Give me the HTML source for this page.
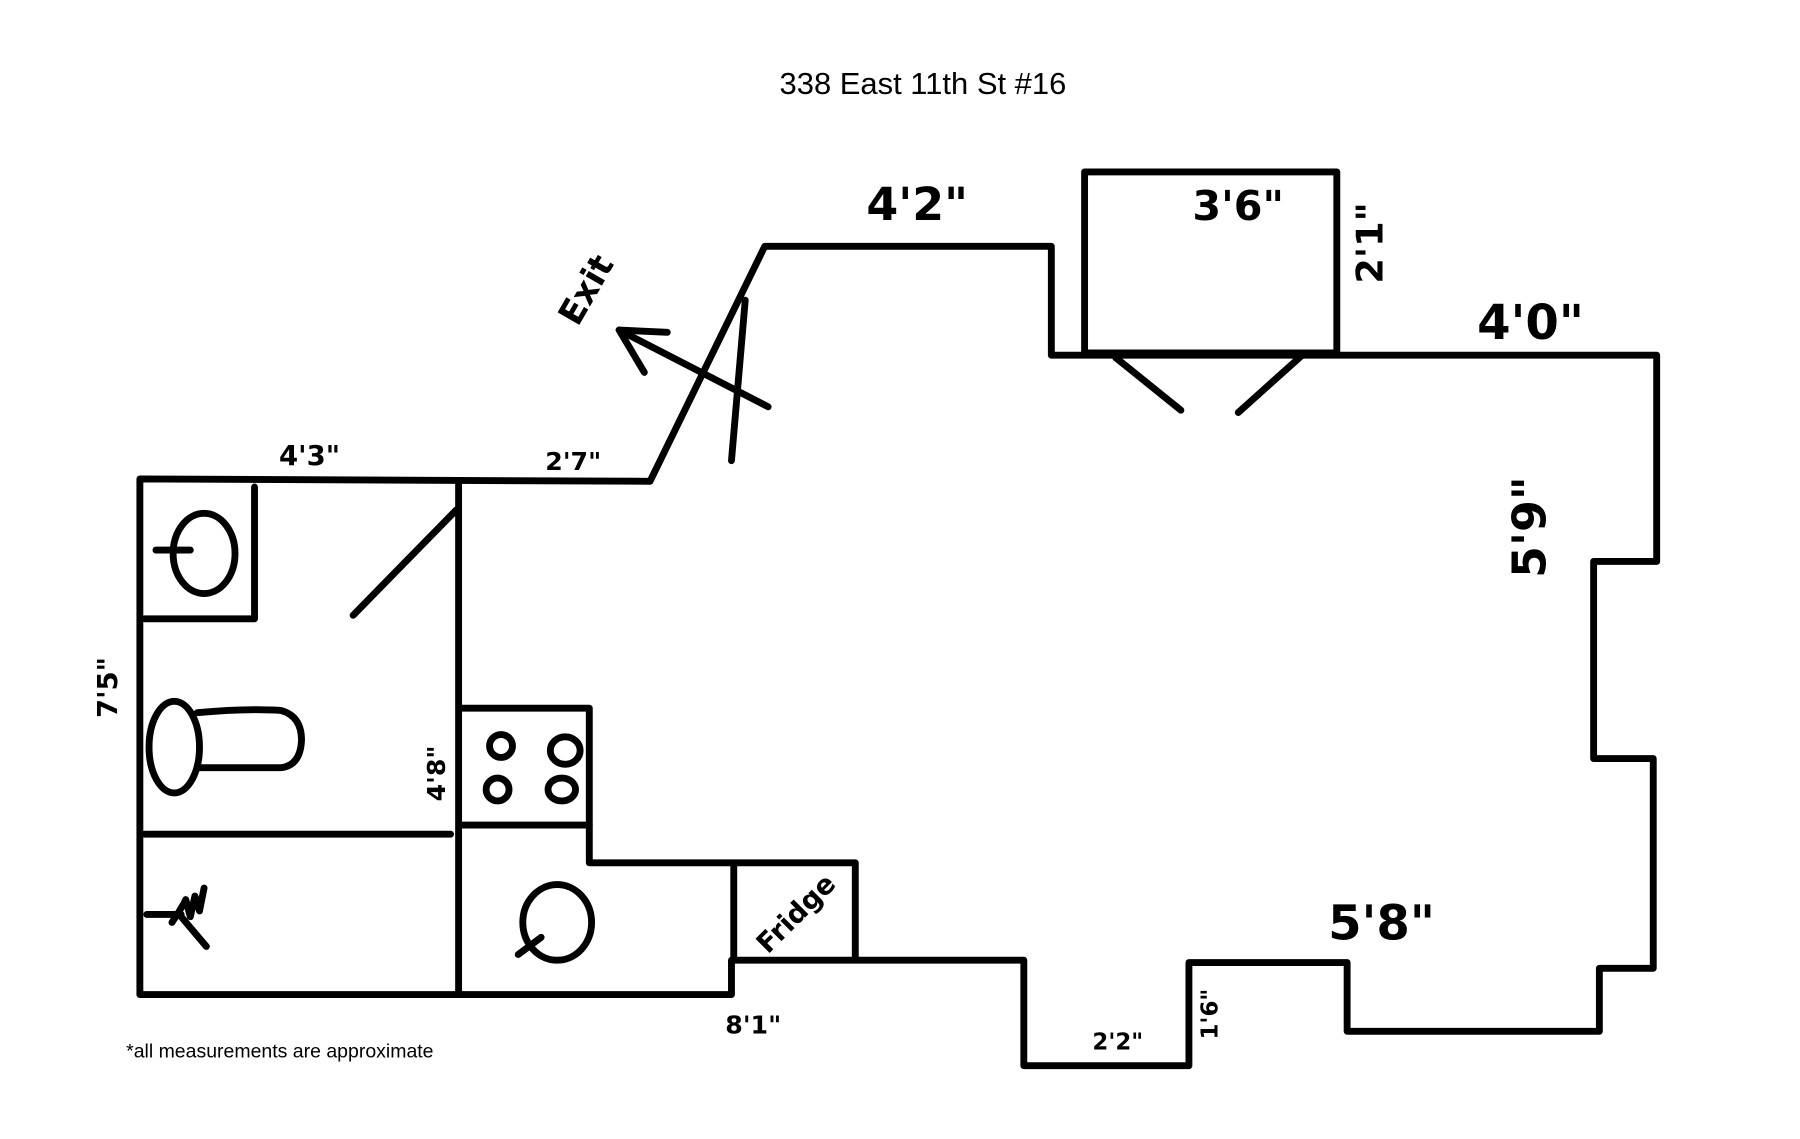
<!DOCTYPE html>
<html><head><meta charset="utf-8"><style>
html,body{margin:0;padding:0;background:#fff;}
svg{display:block;}
text{font-family:"Liberation Sans",sans-serif;fill:#000;}
.h{font-family:"DejaVu Sans","Liberation Sans",sans-serif;font-weight:bold;}
</style></head><body>
<svg width="1800" height="1139" viewBox="0 0 1570 994" preserveAspectRatio="none" xmlns="http://www.w3.org/2000/svg">
<rect width="1570" height="994" fill="#fff"/>
<text x="805" y="82" font-size="27" text-anchor="middle">338 East 11th St #16</text>
<g fill="none" stroke="#000" stroke-width="6" stroke-linecap="round" stroke-linejoin="round">
<polyline points="122,418 567,420 667,215 917,215 917,310 1445,310 1445,490 1390,490 1390,662 1442,662 1442,845 1395,845 1395,900 1175,900 1175,840 1037,840 1037,930 893,930 893,838 638,838 638,868 122,868 122,418"/>
<rect x="946" y="150" width="220" height="158"/>
<line x1="973" y1="312" x2="1030" y2="358"/>
<line x1="1138" y1="308" x2="1080" y2="360"/>
<line x1="650" y1="262" x2="638" y2="402"/>
<line x1="670" y1="355" x2="540" y2="288"/>
<polyline points="582,290 540,288 562,325"/>
<line x1="400" y1="420" x2="400" y2="868"/>
<line x1="126" y1="728" x2="393" y2="728"/>
<polyline points="222,425 222,540 126,540"/>
<ellipse cx="178" cy="483" rx="27" ry="35"/>
<line x1="136" y1="480" x2="166" y2="480"/>
<line x1="398" y1="445" x2="308" y2="537"/>
<ellipse cx="152" cy="652" rx="22" ry="40"/>
<path d="M172,622 Q215,618 245,620 Q263,625 263,646 Q262,668 245,670 L172,670"/>
<line x1="128" y1="798" x2="158" y2="798"/>
<path d="M150,805 Q160,790 162,785 L166,800 L170,782 L174,795 L178,775 M158,800 L180,826"/>
<polyline points="402,618 514,618 514,720 402,720"/>
<polyline points="514,720 514,753 746,753 746,835"/>
<line x1="640" y1="755" x2="640" y2="835"/>
<ellipse cx="437" cy="651" rx="10" ry="10"/>
<ellipse cx="493" cy="655" rx="13" ry="12"/>
<ellipse cx="434" cy="689" rx="10" ry="10"/>
<ellipse cx="490" cy="689" rx="12" ry="10"/>
<ellipse cx="486" cy="805" rx="30" ry="33"/>
<line x1="452" y1="833" x2="472" y2="818"/>
</g>
<text class="h" x="800" y="192" font-size="40" text-anchor="middle">4'2"</text>
<text class="h" x="1080" y="192" font-size="36" text-anchor="middle">3'6"</text>
<text class="h" x="1335" y="296" font-size="42" text-anchor="middle">4'0"</text>
<text class="h" x="1205" y="820" font-size="42" text-anchor="middle">5'8"</text>
<text x="270" y="406" font-size="24" text-anchor="middle" class="h">4'3"</text>
<text x="500" y="410" font-size="22" text-anchor="middle" class="h">2'7"</text>
<text x="975" y="916" font-size="20" text-anchor="middle" class="h">2'2"</text>
<text x="657" y="902" font-size="22" text-anchor="middle" class="h">8'1"</text>
<text class="h" font-size="40" text-anchor="middle" transform="translate(1348,460) rotate(-90)">5'9"</text>
<text class="h" font-size="32" text-anchor="middle" transform="translate(1206,212) rotate(-90)">2'1"</text>
<text class="h" font-size="24" text-anchor="middle" transform="translate(102,600) rotate(-90)">7'5"</text>
<text class="h" font-size="22" text-anchor="middle" transform="translate(388,675) rotate(-90)">4'8"</text>
<text class="h" font-size="20" text-anchor="middle" transform="translate(1062,885) rotate(-90)">1'6"</text>
<text class="h" font-size="30" text-anchor="middle" transform="translate(520,258) rotate(-60)">Exit</text>
<text class="h" font-size="24" text-anchor="middle" transform="translate(700,803) rotate(-45)">Fridge</text>
<text x="110" y="923" font-size="17">*all measurements are approximate</text>
</svg>
</body></html>
